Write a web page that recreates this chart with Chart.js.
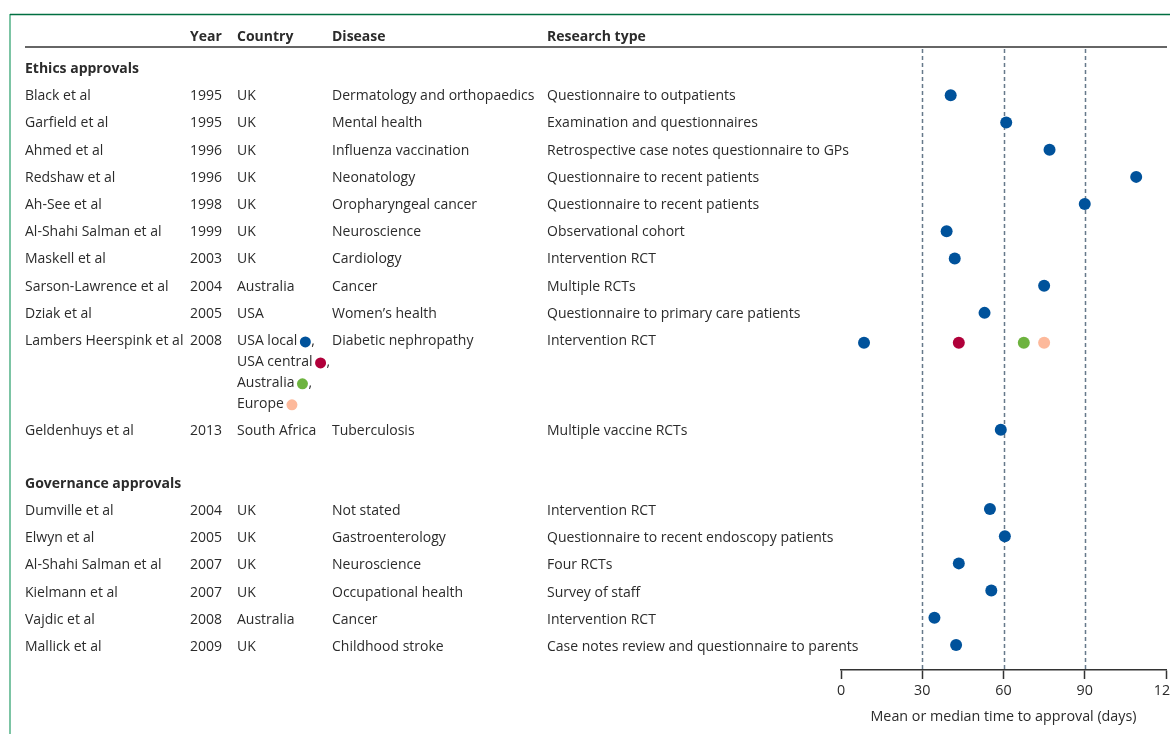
<!DOCTYPE html>
<html>
<head>
<meta charset="utf-8">
<script src="https://cdn.jsdelivr.net/npm/chart.js@4.4.1/dist/chart.umd.min.js"></script>
<style>
    html, body { margin: 0; padding: 0; background: #fff; overflow: hidden; }
    canvas { display: block; }
</style>
</head>
<body>
<canvas id="approvalChart" width="1190" height="734"></canvas>
<script>
// Ethics approvals
const ethicsStudies = ['Black et al', 'Garfield et al', 'Ahmed et al', 'Redshaw et al', 'Ah-See et al',
    'Al-Shahi Salman et al', 'Maskell et al', 'Sarson-Lawrence et al', 'Dziak et al',
    'Lambers Heerspink et al', 'Geldenhuys et al'];
const ethicsYears = [1995, 1995, 1996, 1996, 1998, 1999, 2003, 2004, 2005, 2008, 2013];
const ethicsCountries = ['UK', 'UK', 'UK', 'UK', 'UK', 'UK', 'UK', 'Australia', 'USA', null, 'South Africa'];
const ethicsDiseases = ['Dermatology and orthopaedics', 'Mental health', 'Influenza vaccination', 'Neonatology',
    'Oropharyngeal cancer', 'Neuroscience', 'Cardiology', 'Cancer', 'Women\u2019s health',
    'Diabetic nephropathy', 'Tuberculosis'];
const ethicsTypes = ['Questionnaire to outpatients', 'Examination and questionnaires',
    'Retrospective case notes questionnaire to GPs', 'Questionnaire to recent patients',
    'Questionnaire to recent patients', 'Observational cohort', 'Intervention RCT', 'Multiple RCTs',
    'Questionnaire to primary care patients', 'Intervention RCT', 'Multiple vaccine RCTs'];
const ethicsDays = [40.5, 61, 77, 109, 90, 39, 42, 75, 53, null, 59];

// Lambers Heerspink et al, one estimate per site
const lambersSites = ['USA local', 'USA central', 'Australia', 'Europe'];
const lambersDays = [8.5, 43.5, 67.5, 75];

// Governance approvals
const govStudies = ['Dumville et al', 'Elwyn et al', 'Al-Shahi Salman et al', 'Kielmann et al',
    'Vajdic et al', 'Mallick et al'];
const govYears = [2004, 2005, 2007, 2007, 2008, 2009];
const govCountries = ['UK', 'UK', 'UK', 'UK', 'Australia', 'UK'];
const govDiseases = ['Not stated', 'Gastroenterology', 'Neuroscience', 'Occupational health', 'Cancer',
    'Childhood stroke'];
const govTypes = ['Intervention RCT', 'Questionnaire to recent endoscopy patients', 'Four RCTs',
    'Survey of staff', 'Intervention RCT', 'Case notes review and questionnaire to parents'];
const govDays = [55, 60.5, 43.5, 55.5, 34.5, 42.5];

const xTicks = [0, 30, 60, 90, 120];
const refLines = [30, 60, 90];

// Styling
const colors = {
    text: '#2b2b2b',
    dot: '#00529b',
    sites: ['#00529b', '#b0003a', '#6db33f', '#fdb99b'],
    grid: '#66798a',
    rule: '#666666'
};
const font = "'Open Sans', sans-serif";
const cols = { study: 25, year: 190, country: 237, disease: 332, type: 547 };
const textShift = 2; // Open Sans sits a bit high with 'middle'

// row slots (in lines) for layout
const ethicsSlot = i => 1 + i + (i > 9 ? 2.3 : 0);
const govHeadSlot = 15.25;
const govSlot = i => govHeadSlot + 1 + i;
const subLine = 0.77;

const mainPoints = [];
ethicsDays.forEach((d, i) => { if (d !== null) mainPoints.push({ x: d, y: ethicsSlot(i) + 0.04 }); });
govDays.forEach((d, i) => mainPoints.push({ x: d, y: govSlot(i) }));
const lambersIdx = ethicsStudies.indexOf('Lambers Heerspink et al');

const datasets = [{
    label: 'Studies',
    data: mainPoints,
    backgroundColor: colors.dot,
    borderWidth: 0,
    pointRadius: 6
}];
lambersSites.forEach((site, k) => {
    datasets.push({
        label: site,
        data: [{ x: lambersDays[k], y: ethicsSlot(lambersIdx) + 0.14 }],
        backgroundColor: colors.sites[k],
        borderWidth: 0,
        pointRadius: 6
    });
});

const tablePlugin = {
    id: 'table',
    beforeDatasetsDraw(chart) {
        const { ctx, chartArea, scales } = chart;
        const x = scales.x, y = scales.y;
        ctx.save();

        // frame
        ctx.strokeStyle = '#7cc4a4';
        ctx.lineWidth = 2;
        ctx.beginPath(); ctx.moveTo(10, 14); ctx.lineTo(10, 734); ctx.stroke();
        ctx.strokeStyle = '#006f41';
        ctx.lineWidth = 1.5;
        ctx.beginPath(); ctx.moveTo(10, 14.5); ctx.lineTo(1190, 14.5); ctx.stroke();

        // header rule
        ctx.strokeStyle = colors.rule;
        ctx.lineWidth = 2;
        ctx.beginPath(); ctx.moveTo(25, chartArea.top); ctx.lineTo(1167, chartArea.top); ctx.stroke();

        // dashed reference lines
        ctx.strokeStyle = colors.grid;
        ctx.lineWidth = 1.5;
        ctx.setLineDash([4, 3]);
        refLines.forEach(v => {
            const px = Math.round(x.getPixelForValue(v)) + 0.5;
            ctx.beginPath(); ctx.moveTo(px, chartArea.top + 2); ctx.lineTo(px, chartArea.bottom); ctx.stroke();
        });
        ctx.setLineDash([]);

        ctx.fillStyle = colors.text;
        ctx.textBaseline = 'middle';
        ctx.textAlign = 'left';

        // column headers
        ctx.font = 'bold 14px ' + font;
        const hy = chartArea.top - 11 + textShift - 1;
        ctx.fillText('Year', cols.year, hy);
        ctx.fillText('Country', cols.country, hy);
        ctx.fillText('Disease', cols.disease, hy);
        ctx.fillText('Research type', cols.type, hy);

        // section headings
        ctx.fillText('Ethics approvals', cols.study, y.getPixelForValue(0) + textShift);
        ctx.fillText('Governance approvals', cols.study, y.getPixelForValue(govHeadSlot) + textShift);

        ctx.font = '14px ' + font;
        const row = (slot, study, year, country, disease, type) => {
            const py = y.getPixelForValue(slot) + textShift;
            ctx.fillText(study, cols.study, py);
            ctx.fillText(String(year), cols.year, py);
            if (country) ctx.fillText(country, cols.country, py);
            ctx.fillText(disease, cols.disease, py);
            ctx.fillText(type, cols.type, py);
        };
        ethicsStudies.forEach((s, i) => row(ethicsSlot(i), s, ethicsYears[i], ethicsCountries[i], ethicsDiseases[i], ethicsTypes[i]));
        govStudies.forEach((s, i) => row(govSlot(i), s, govYears[i], govCountries[i], govDiseases[i], govTypes[i]));

        // Lambers site list with colour keys
        lambersSites.forEach((site, k) => {
            const py = y.getPixelForValue(ethicsSlot(lambersIdx) + k * subLine) + textShift;
            ctx.fillStyle = colors.text;
            ctx.fillText(site, cols.country, py);
            const w = ctx.measureText(site).width;
            ctx.fillStyle = colors.sites[k];
            ctx.beginPath(); ctx.arc(cols.country + w + 8, py + 1, 5.5, 0, Math.PI * 2); ctx.fill();
            if (k < lambersSites.length - 1) {
                ctx.fillStyle = colors.text;
                ctx.fillText(',', cols.country + w + 14, py);
            }
        });

        ctx.restore();
    }
};

new Chart(document.getElementById('approvalChart'), {
    type: 'scatter',
    data: { datasets: datasets },
    options: {
        responsive: false,
        animation: false,
        layout: { padding: { left: 841, top: 47, right: 24, bottom: 0 } },
        plugins: {
            legend: { display: false },
            tooltip: { enabled: false }
        },
        scales: {
            x: {
                type: 'linear',
                min: 0,
                max: 120,
                afterBuildTicks: s => { s.ticks = xTicks.map(v => ({ value: v })); },
                afterFit: s => { s.height = 64; },
                grid: { drawOnChartArea: false, drawTicks: true, tickLength: 9, tickColor: '#333', tickWidth: 1.5 },
                border: { display: true, color: '#333', width: 1.5 },
                ticks: { color: colors.text, font: { family: font, size: 14.3 }, padding: 3, maxRotation: 0 },
                title: {
                    display: true,
                    text: 'Mean or median time to approval (days)',
                    color: colors.text,
                    font: { family: font, size: 14.3 },
                    padding: { top: 6, bottom: 8 }
                }
            },
            y: {
                type: 'linear',
                display: false,
                reverse: true,
                min: -0.735,
                max: 22.17
            }
        }
    },
    plugins: [tablePlugin]
});
</script>
</body>
</html>
